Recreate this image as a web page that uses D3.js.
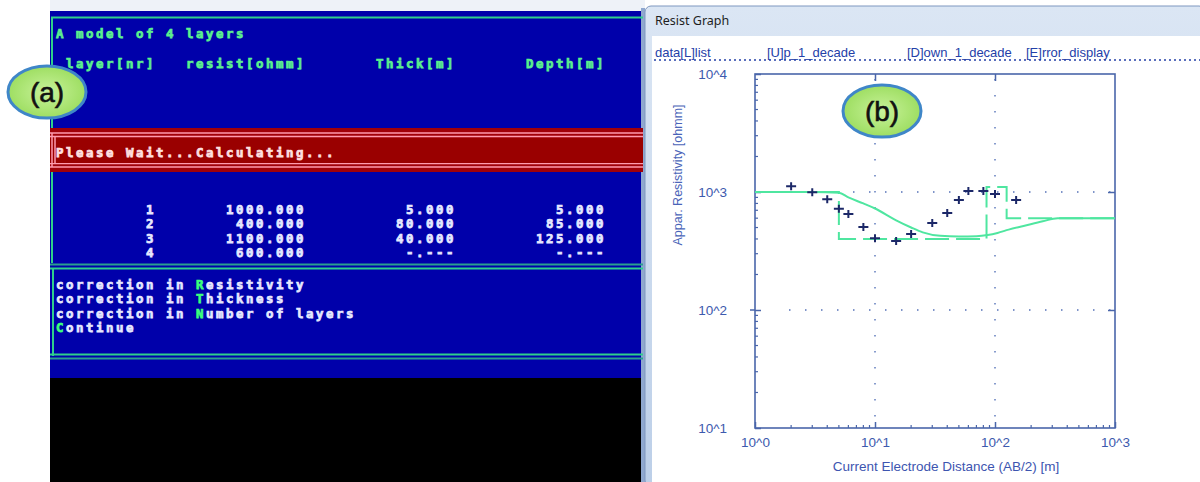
<!DOCTYPE html>
<html><head><meta charset="utf-8">
<script src="https://cdn.jsdelivr.net/npm/d3@7"></script>
<style>html,body{margin:0;padding:0;background:#fff;overflow:hidden}</style>
</head><body>
<svg id="c" width="1200" height="482"></svg>
<script>
// ---------- data ----------
const layerNr   = [1, 2, 3, 4];
const resist    = [1000, 400, 1100, 600];
const thick     = [5, 80, 40, null];
const depth     = [5, 85, 125, null];

const fieldX = [2, 3, 4, 5, 6, 8, 10, 15, 20, 30, 40, 50, 60, 80, 100, 150];
const fieldY = [1120, 995, 870, 720, 650, 505, 405, 385, 440, 545, 665, 855, 1020, 1020, 960, 855];

const calcX = [1, 3, 5, 6, 8, 10, 15, 20, 25, 35, 50, 70, 87, 105, 130, 173, 250, 333, 1000];
const calcY = [1000, 1000, 985, 900, 800, 725, 575, 500, 455, 425, 420, 422, 432, 450, 480, 515, 565, 600, 600];

const xTicks = [1, 10, 100, 1000];
const yTicks = [10, 100, 1000, 10000];
const menuItems = ["data[L]list", "[U]p_1_decade", "[D]own_1_decade", "[E]rror_display"];
const menuX = [655, 767, 907, 1026];
const corrections = [["correction in ", "R", "esistivity"], ["correction in ", "T", "hickness"],
                     ["correction in ", "N", "umber of layers"], ["", "C", "ontinue"]];

// ---------- drawing ----------
const svg = d3.select("#c");
const defs = svg.append("defs");
const mono = "'DejaVu Sans Mono', 'Liberation Mono', monospace";
const CW = 10; // console cell width
const X0 = 56;
const FS = 12.4;

// console window
svg.append("rect").attr("x", 50).attr("y", 0).attr("width", 595).attr("height", 11).attr("fill", "#eef2f8");
svg.append("rect").attr("x", 50).attr("y", 11).attr("width", 593).attr("height", 367).attr("fill", "#0000aa");
svg.append("rect").attr("x", 50).attr("y", 378).attr("width", 593).attr("height", 104).attr("fill", "#000");
svg.append("rect").attr("x", 641).attr("y", 8).attr("width", 4).attr("height", 474).attr("fill", "#8fa8cf");

const green = "#2fcf8c";
function hline(y, x1, x2, c, w) { svg.append("line").attr("x1", x1).attr("x2", x2).attr("y1", y).attr("y2", y).attr("stroke", c).attr("stroke-width", w); }
function vline(x, y1, y2, c, w) { svg.append("line").attr("x1", x).attr("x2", x).attr("y1", y1).attr("y2", y2).attr("stroke", c).attr("stroke-width", w); }

hline(17.5, 51, 643, green, 2);
vline(52, 17, 128, green, 2);
// red band
svg.append("rect").attr("x", 50).attr("y", 128).attr("width", 593).attr("height", 44).attr("fill", "#a00008");
hline(133, 50, 643, "#ff9aae", 1.5); hline(136.5, 50, 643, "#ff9aae", 1.5);
hline(163.5, 50, 643, "#ff9aae", 1.5); hline(167, 50, 643, "#ff9aae", 1.5);
svg.append("rect").attr("x", 50).attr("y", 138).attr("width", 593).attr("height", 25).attr("fill", "#9a0000");
vline(52, 133, 167, "#ff9aae", 1.5); vline(55, 136, 164, "#ff9aae", 1.5);
// middle panel
vline(52, 172, 263, green, 2);
hline(264.5, 50, 643, "#2a9f8f", 2); hline(268.5, 50, 643, green, 2);
vline(53, 268, 356, green, 2);
hline(354.5, 50, 643, green, 2); hline(358.5, 50, 643, "#2a9f8f", 2);

function ctext(col, y, s, fill) {
  return svg.append("text").attr("x", X0 + col * CW).attr("y", y).text(s)
    .attr("font-family", mono).attr("font-weight", "bold").attr("font-size", FS)
    .attr("letter-spacing", (CW - FS * 0.602).toFixed(2) + "px").attr("fill", fill)
    .attr("stroke", fill).attr("stroke-width", 0.75);
}
const cg = "#5cf08e";
ctext(0, 38, "A model of " + layerNr.length + " layers", cg);
ctext(1, 68, "layer[nr]", cg);
ctext(13, 68, "resist[ohmm]", cg);
ctext(32, 68, "Thick[m]", cg);
ctext(47, 68, "Depth[m]", cg);
ctext(0, 157, "Please Wait...Calculating...", "#ffe0e0");

const rowY = [213.5, 228, 242.5, 257];
const fmt = v => v == null ? "-.---" : v.toFixed(3);
layerNr.forEach((n, i) => {
  const cols = [[String(n), 9], [fmt(resist[i]), 24], [fmt(thick[i]), 39], [fmt(depth[i]), 54]];
  cols.forEach(([s, end]) => ctext(end - s.length + 1, rowY[i], s, "#e6e8ff"));
});
const corrY = [288.5, 303, 317.5, 332];
corrections.forEach((c, i) => {
  const t = ctext(0, corrY[i], "", "#e6e8ff");
  t.append("tspan").text(c[0]);
  t.append("tspan").attr("fill", "#3cff7c").attr("stroke", "#3cff7c").text(c[1]);
  t.append("tspan").text(c[2]);
});

// graph window
const tb = defs.append("linearGradient").attr("id", "tb").attr("x1", 0).attr("x2", 0).attr("y1", 0).attr("y2", 1);
tb.append("stop").attr("offset", 0).attr("stop-color", "#dbe6f4");
tb.append("stop").attr("offset", 1).attr("stop-color", "#bccfe8");
svg.append("rect").attr("x", 645).attr("y", 6).attr("width", 560).attr("height", 480).attr("rx", 6).attr("fill", "url(#tb)");
svg.append("rect").attr("x", 645).attr("y", 6).attr("width", 560).attr("height", 480).attr("rx", 6).attr("fill", "none").attr("stroke", "#7f97bf");
svg.append("rect").attr("x", 652).attr("y", 36).attr("width", 548).attr("height", 446).attr("fill", "#fff");
svg.append("text").attr("x", 655).attr("y", 25).text("Resist Graph").attr("font-family", "'Noto Sans', sans-serif").attr("font-size", 12.5).attr("fill", "#1e1e1e");

menuItems.forEach((m, i) => {
  svg.append("text").attr("x", menuX[i]).attr("y", 57).text(m)
    .attr("font-family", "'Liberation Sans', Arial, sans-serif").attr("font-size", 13).attr("fill", "#2440a8");
});
svg.append("line").attr("x1", 654).attr("x2", 1200).attr("y1", 60).attr("y2", 60)
  .attr("stroke", "#2440a8").attr("stroke-width", 1.6).attr("stroke-dasharray", "2,3");

// plot
const x = d3.scaleLog().domain([1, 1000]).range([755, 1115]);
const y = d3.scaleLog().domain([10, 10000]).range([428, 74]);
const axc = "#4a66aa";
const plot = svg.append("g");

// grid (dotted)
[100, 1000].forEach(v => plot.append("line").attr("x1", x(1) + 34).attr("x2", x(1000)).attr("y1", y(v)).attr("y2", y(v))
  .attr("stroke", "#5572b8").attr("stroke-width", 1.4).attr("stroke-dasharray", "1.5,14.5"));
[10, 100].forEach(v => plot.append("line").attr("x1", x(v)).attr("x2", x(v)).attr("y1", y(10000) + 5).attr("y2", y(10))
  .attr("stroke", "#5572b8").attr("stroke-width", 1.4).attr("stroke-dasharray", "1.5,14.5"));

// minor ticks
const isMajor = v => Math.abs(Math.log10(v) - Math.round(Math.log10(v))) < 1e-9;
y.ticks().filter(v => !isMajor(v)).forEach(v => plot.append("line").attr("x1", x(1)).attr("x2", x(1) + 3)
  .attr("y1", y(v)).attr("y2", y(v)).attr("stroke", axc).attr("stroke-width", 1.2));
x.ticks().filter(v => !isMajor(v)).forEach(v => plot.append("line").attr("x1", x(v)).attr("x2", x(v))
  .attr("y1", y(10)).attr("y2", y(10) - 3).attr("stroke", axc).attr("stroke-width", 1.2));

const lblFont = "'Liberation Sans', Arial, sans-serif";
const yAxis = plot.append("g").attr("transform", `translate(${x(1)},0)`)
  .call(d3.axisLeft(y).tickValues(yTicks).tickFormat(d => "10^" + Math.round(Math.log10(d))).tickSize(-6).tickPadding(28));
const xAxis = plot.append("g").attr("transform", `translate(0,${y(10)})`)
  .call(d3.axisBottom(x).tickValues(xTicks).tickFormat(d => "10^" + Math.round(Math.log10(d))).tickSize(-6).tickPadding(9));
const xTop = plot.append("g").attr("transform", `translate(0,${y(10000)})`)
  .call(d3.axisTop(x).tickValues([10, 100]).tickFormat("").tickSize(-7));
const yRight = plot.append("g").attr("transform", `translate(${x(1000)},0)`)
  .call(d3.axisRight(y).tickValues([100, 1000]).tickFormat("").tickSize(-7));
[yAxis, xAxis, xTop, yRight].forEach(a => {
  a.select(".domain").remove();
  a.selectAll("line").attr("stroke", axc).attr("stroke-width", 1.5);
  a.selectAll("text").attr("font-family", lblFont).attr("font-size", 13.5).attr("fill", "#3d5aae");
});
plot.append("line").attr("x1", x(1) - 5).attr("x2", x(1)).attr("y1", y(100)).attr("y2", y(100)).attr("stroke", axc).attr("stroke-width", 1.5);
plot.append("rect").attr("x", x(1)).attr("y", y(10000)).attr("width", x(1000) - x(1)).attr("height", y(10) - y(10000))
  .attr("fill", "none").attr("stroke", axc).attr("stroke-width", 1.6);

// model step line (from layer table)
const stepPts = [];
let xs = 1;
resist.forEach((r, i) => {
  const xe = depth[i] == null ? 1000 : depth[i];
  stepPts.push([xs, r], [xe, r]);
  xs = xe;
});
const gcol = "#4fe6a0";
plot.append("path").attr("d", d3.line().x(d => x(d[0])).y(d => y(d[1]))(stepPts))
  .attr("fill", "none").attr("stroke", gcol).attr("stroke-width", 2).attr("stroke-dasharray", "24,7");

// calculated curve
plot.append("path").attr("d", d3.line().x(d => x(d[0])).y(d => y(d[1])).curve(d3.curveMonotoneX)(calcX.map((v, i) => [v, calcY[i]])))
  .attr("fill", "none").attr("stroke", gcol).attr("stroke-width", 2);

// field data crosses
plot.selectAll(".pt").data(fieldX.map((v, i) => [v, fieldY[i]])).enter().append("path")
  .attr("transform", d => `translate(${x(d[0])},${y(d[1])})`)
  .attr("d", "M-5,0H5M0,-4V4").attr("stroke", "#1c2868").attr("stroke-width", 2);

// axis titles
svg.append("text").attr("x", 946).attr("y", 471).attr("text-anchor", "middle").text("Current Electrode Distance (AB/2) [m]")
  .attr("font-family", lblFont).attr("font-size", 13.5).attr("fill", "#3d55b0");
svg.append("text").attr("transform", "translate(682,175) rotate(-90)").attr("text-anchor", "middle").text("Appar. Resistivity [ohmm]")
  .attr("font-family", lblFont).attr("font-size", 12.5).attr("fill", "#4a64b8");

// callouts
const rg = defs.append("radialGradient").attr("id", "cg");
rg.append("stop").attr("offset", 0).attr("stop-color", "#c8f29a");
rg.append("stop").attr("offset", 1).attr("stop-color", "#9ede62");
[[47, 92, "(a)"], [882, 111, "(b)"]].forEach(([cx, cy, t]) => {
  svg.append("ellipse").attr("cx", cx).attr("cy", cy).attr("rx", 39).attr("ry", 26)
    .attr("fill", "url(#cg)").attr("stroke", "#3f86c8").attr("stroke-width", 3);
  svg.append("text").attr("x", cx).attr("y", cy + 10).attr("text-anchor", "middle").text(t)
    .attr("font-family", lblFont).attr("font-size", 28).attr("fill", "#111")
    .attr("stroke", "#111").attr("stroke-width", 0.6);
});
</script>
</body></html>
